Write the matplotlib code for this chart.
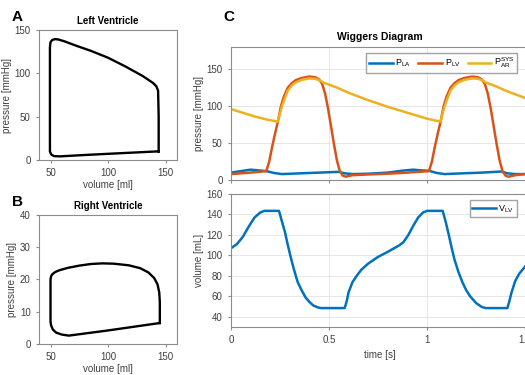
import matplotlib
matplotlib.use("Agg")
import matplotlib.pyplot as plt

# Left ventricle PV loop (volume ml, pressure mmHg)
lv_vol = [144, 144, 143.5, 142, 139, 130, 115, 100, 85, 72, 62, 57, 54, 51.5, 50, 49.5,
          49.5, 49.5, 50.5, 53, 58, 80, 110, 144]
lv_pres = [10, 50, 80, 85, 89, 97, 108, 118, 126, 132, 137, 139, 139.5, 138.5, 136, 130,
           60, 10, 6.5, 4.5, 4.2, 5.8, 7.8, 10]

# Right ventricle PV loop
rv_vol = [145, 145, 144.5, 143, 140, 135, 128, 118, 105, 95, 85, 75, 65, 58, 54, 51.5, 50.5,
          50, 50, 50.5, 52, 55, 60, 66, 100, 145]
rv_pres = [6.5, 13, 16, 18.5, 20.5, 22.2, 23.5, 24.4, 24.9, 25, 24.8, 24.3, 23.6, 22.9, 22.3,
           21.6, 21, 20, 7, 5.8, 4.5, 3.5, 2.9, 2.6, 4.2, 6.5]

# Wiggers diagram: pressures
t_lv = [0, 0.10, 0.18, 0.195, 0.21, 0.225, 0.24, 0.255, 0.27, 0.29, 0.31, 0.33, 0.36, 0.40,
        0.43, 0.45, 0.465, 0.48, 0.495, 0.51, 0.525, 0.54, 0.555, 0.57, 0.585, 0.62, 0.70,
        0.80, 0.90, 1.01, 1.025, 1.04, 1.055, 1.07, 1.085, 1.10, 1.12, 1.14, 1.16, 1.19, 1.23,
        1.26, 1.28, 1.295, 1.31, 1.325, 1.34, 1.355, 1.37, 1.385, 1.40, 1.415, 1.45, 1.50]
p_lv = [8, 10, 12, 25, 45, 63, 80, 100, 113, 125, 131, 135, 138, 140,
        139, 136, 130, 117, 97, 73, 49, 27, 12, 6, 4.5, 6.5, 7.5,
        8.5, 10, 12, 25, 45, 63, 80, 100, 113, 125, 131, 135, 138, 140,
        139, 136, 130, 117, 97, 73, 49, 27, 12, 6, 4.5, 6.5, 8]

t_ar = [0, 0.06, 0.12, 0.18, 0.238, 0.25, 0.26, 0.275, 0.29, 0.31, 0.33, 0.36, 0.40, 0.43,
        0.455, 0.47, 0.50, 0.55, 0.60, 0.65, 0.70, 0.75, 0.80, 0.85, 0.90, 0.95, 1.00, 1.068,
        1.08, 1.09, 1.105, 1.12, 1.14, 1.16, 1.19, 1.23, 1.26, 1.285, 1.30, 1.35, 1.40, 1.45,
        1.50]
p_ar = [96, 91, 86, 82, 79, 90, 100, 111, 121, 128, 132, 135.5, 137.5, 137,
        134.5, 132, 129, 124, 118, 113, 108, 103.5, 99, 95, 91, 87, 83, 79,
        90, 100, 111, 121, 128, 132, 135.5, 137.5, 137, 134.5, 132, 127, 121, 116,
        111]

t_la = [0, 0.05, 0.10, 0.14, 0.18, 0.22, 0.26, 0.35, 0.45, 0.55, 0.58, 0.62, 0.70, 0.80,
        0.87, 0.93, 0.97, 1.01, 1.05, 1.09, 1.18, 1.28, 1.38, 1.41, 1.45, 1.50]
p_la = [10, 12, 14, 13, 12, 9.5, 8, 9, 10, 11, 9, 8, 8.5, 10,
        12.5, 14, 13, 12.5, 9.5, 8, 9, 10, 11.5, 9, 8, 8]

# Wiggers diagram: LV volume
t_v = [0, 0.03, 0.06, 0.09, 0.12, 0.15, 0.17, 0.245, 0.26, 0.275, 0.29, 0.305, 0.32, 0.34,
       0.36, 0.38, 0.40, 0.42, 0.445, 0.46, 0.58, 0.59, 0.60, 0.62, 0.645, 0.665, 0.70, 0.75,
       0.80, 0.86, 0.88, 0.905, 0.93, 0.955, 0.98, 1.00, 1.08, 1.095, 1.11, 1.125, 1.14, 1.16,
       1.18, 1.20, 1.22, 1.25, 1.28, 1.30, 1.41, 1.42, 1.43, 1.45, 1.47, 1.50]
v_lv = [107, 111, 118, 128, 137, 142, 143.5, 143.5, 133, 123, 110, 98, 87, 74,
        66, 59, 54.5, 51, 49, 48.5, 48.5, 55, 64, 74, 81, 86, 92, 98.5,
        103.5, 110, 113, 120, 129, 137, 142, 143.5, 143.5, 133, 121, 108, 96, 84,
        74, 66, 60, 53.5, 49.5, 48.5, 48.5, 55, 63, 75, 82, 89]

blue = "#0072BD"
orange = "#D95319"
yellow = "#EDB120"
grey_txt = "#404040"

plt.rcParams['font.family'] = ['Liberation Sans', 'DejaVu Sans']
plt.rcParams['font.size'] = 7
plt.rcParams['axes.edgecolor'] = "#8c8c8c"
plt.rcParams['xtick.color'] = "#8c8c8c"
plt.rcParams['ytick.color'] = "#8c8c8c"
plt.rcParams['xtick.labelcolor'] = grey_txt
plt.rcParams['ytick.labelcolor'] = grey_txt
plt.rcParams['axes.labelcolor'] = grey_txt
plt.rcParams['xtick.major.size'] = 2.5
plt.rcParams['ytick.major.size'] = 2.5

fig = plt.figure(figsize=(5.25, 3.75), dpi=100)

# A - left ventricle
axA = fig.add_axes([0.0743, 0.5733, 0.263, 0.3467])
axA.plot(lv_vol, lv_pres, color="black", lw=1.7)
axA.set_xlim(40, 160)
axA.set_ylim(0, 150)
axA.set_xticks([50, 100, 150])
axA.set_yticks([0, 50, 100, 150])
axA.set_xlabel("volume [ml]", labelpad=1)
axA.set_ylabel("pressure [mmHg]", labelpad=2)
axA.set_title("Left Ventricle", fontsize=7, fontweight="bold", pad=4)

# B - right ventricle
axB = fig.add_axes([0.0743, 0.0827, 0.263, 0.344])
axB.plot(rv_vol, rv_pres, color="black", lw=1.7)
axB.set_xlim(40, 160)
axB.set_ylim(0, 40)
axB.set_xticks([50, 100, 150])
axB.set_yticks([0, 10, 20, 30, 40])
axB.set_xlabel("volume [ml]", labelpad=1)
axB.set_ylabel("pressure [mmHg]", labelpad=2)
axB.set_title("Right Ventricle", fontsize=7, fontweight="bold", pad=4)

# C - Wiggers diagram
axC1 = fig.add_axes([0.44, 0.52, 0.5675, 0.3547])
axC1.plot(t_la, p_la, color=blue, lw=1.8, label=r"$\mathregular{P_{LA}}$")
axC1.plot(t_lv, p_lv, color=orange, lw=1.8, label=r"$\mathregular{P_{LV}}$")
axC1.plot(t_ar, p_ar, color=yellow, lw=1.8, label=r"$\mathregular{P_{AR}^{SYS}}$")
axC1.set_xlim(0, 1.52)
axC1.set_ylim(0, 180)
axC1.set_xticks([0, 0.5, 1, 1.5])
axC1.set_xticklabels([])
axC1.set_yticks([0, 50, 100, 150])
axC1.set_ylabel("pressure [mmHg]", labelpad=2)
axC1.set_title("Wiggers Diagram", fontsize=7.5, fontweight="bold", pad=5)
axC1.grid(True, color="#e3e3e3", lw=0.6)
axC1.legend(loc="upper right", ncol=3, fontsize=6.5, frameon=True, fancybox=False,
            edgecolor="#8c8c8c", handlelength=2.6, columnspacing=0.8, handletextpad=0.3,
            borderpad=0.3, bbox_to_anchor=(0.975, 0.985))

axC2 = fig.add_axes([0.44, 0.128, 0.5675, 0.3547])
axC2.plot(t_v, v_lv, color=blue, lw=1.8, label=r"$\mathregular{V_{LV}}$")
axC2.set_xlim(0, 1.52)
axC2.set_ylim(30, 160)
axC2.set_xticks([0, 0.5, 1, 1.5])
axC2.set_xticklabels(["0", "0.5", "1", "1.5"])
axC2.set_yticks([40, 60, 80, 100, 120, 140, 160])
axC2.set_xlabel("time [s]", labelpad=3)
axC2.set_ylabel("volume [mL]", labelpad=2)
axC2.grid(True, color="#e3e3e3", lw=0.6)
axC2.legend(loc="upper right", fontsize=6.5, frameon=True, fancybox=False,
            edgecolor="#8c8c8c", handlelength=2.6, handletextpad=0.3,
            borderpad=0.3, bbox_to_anchor=(0.975, 0.985))

fig.text(0.022, 0.945, "A", fontsize=11, fontweight="bold")
fig.text(0.022, 0.452, "B", fontsize=11, fontweight="bold")
fig.text(0.425, 0.945, "C", fontsize=11, fontweight="bold")

fig.savefig("out.png", dpi=100)
